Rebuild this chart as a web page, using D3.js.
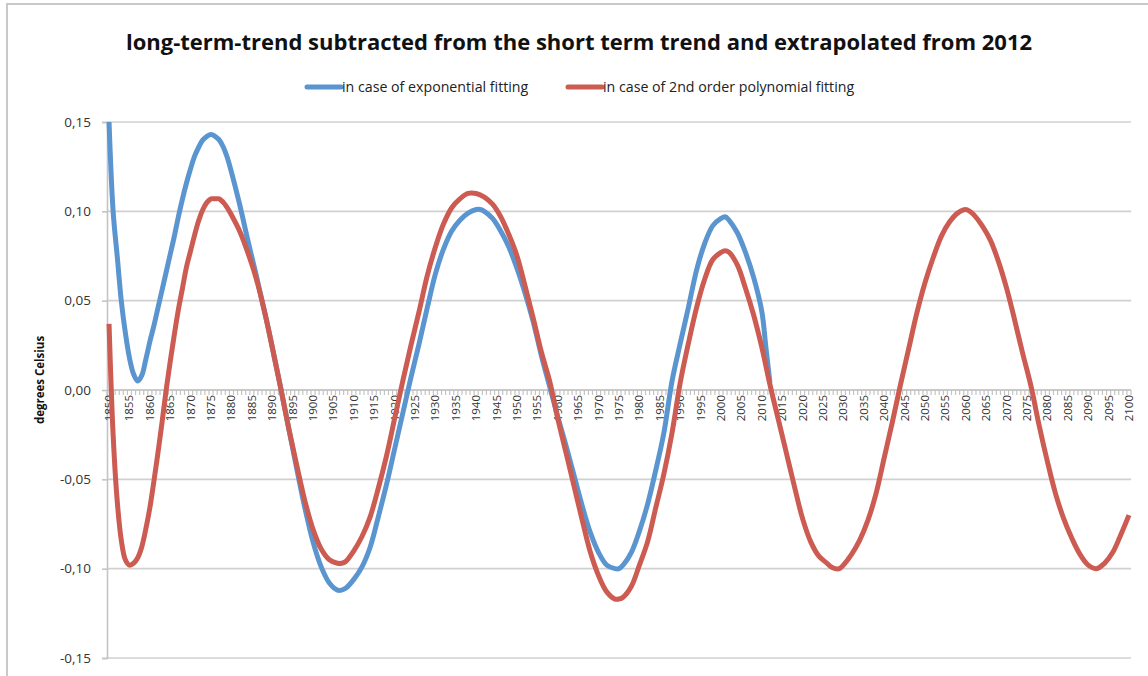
<!DOCTYPE html>
<html><head><meta charset="utf-8">
<script src="https://cdn.jsdelivr.net/npm/d3@7"></script>
<style>body{margin:0;background:#fff}svg{display:block}</style>
</head><body>
<script>
const title = "long-term-trend subtracted from the short term trend and extrapolated from 2012";
const seriesNames = ["in case of exponential fitting", "in case of 2nd order polynomial fitting"];
const yTicks = [-0.15, -0.10, -0.05, 0, 0.05, 0.10, 0.15];
const yearStart = 1850, yearEnd = 2100;

const expYears = [1850,1851,1852,1853,1854,1855,1856,1857,1858,1859,1860,1861,1862,1863,1864,1865,1866,1867,1868,1869,1870,1871,1872,1873,1874,1875,1876,1877,1878,1879,1880,1882,1884,1886,1887,1888,1889,1890,1891,1892,1894,1896,1898,1900,1902,1904,1906,1907,1908,1910,1912,1914,1916,1918,1920,1922,1924,1926,1928,1930,1932,1934,1936,1938,1940,1941,1942,1944,1946,1948,1950,1952,1954,1956,1958,1960,1962,1964,1966,1968,1970,1972,1974,1975,1976,1978,1980,1982,1984,1986,1988,1990,1992,1994,1996,1998,2000,2001,2002,2004,2006,2008,2010,2011,2012];
const expValues = [0.150,0.100,0.075,0.050,0.032,0.018,0.009,0.005,0.008,0.017,0.027,0.036,0.046,0.056,0.066,0.076,0.086,0.097,0.107,0.116,0.124,0.131,0.136,0.140,0.142,0.143,0.142,0.140,0.136,0.130,0.122,0.104,0.084,0.065,0.055,0.045,0.035,0.024,0.013,0.002,-0.021,-0.044,-0.066,-0.085,-0.099,-0.108,-0.112,-0.112,-0.111,-0.106,-0.099,-0.088,-0.071,-0.053,-0.033,-0.013,0.007,0.026,0.046,0.065,0.079,0.089,0.095,0.099,0.101,0.101,0.100,0.096,0.089,0.080,0.068,0.054,0.038,0.019,0.002,-0.015,-0.031,-0.048,-0.065,-0.080,-0.091,-0.098,-0.100,-0.100,-0.098,-0.091,-0.079,-0.064,-0.045,-0.024,0.005,0.026,0.046,0.067,0.082,0.092,0.096,0.097,0.095,0.088,0.077,0.063,0.044,0.024,0.004];

const polyYears = [1850,1851,1852,1853,1854,1855,1856,1857,1858,1859,1860,1861,1862,1863,1864,1865,1866,1867,1868,1869,1870,1871,1872,1873,1874,1875,1876,1877,1878,1879,1880,1882,1884,1886,1888,1890,1892,1894,1896,1898,1900,1902,1904,1906,1907,1908,1910,1912,1914,1916,1918,1920,1922,1924,1926,1928,1930,1932,1934,1936,1938,1940,1942,1944,1946,1948,1950,1952,1954,1956,1958,1960,1962,1964,1966,1968,1970,1972,1974,1975,1976,1978,1980,1982,1984,1986,1988,1990,1992,1994,1996,1998,2000,2001,2002,2004,2006,2008,2010,2012,2014,2016,2018,2020,2022,2024,2026,2027,2028,2029,2030,2032,2034,2036,2038,2040,2042,2044,2046,2048,2050,2052,2054,2056,2058,2060,2061,2062,2064,2066,2068,2070,2072,2074,2076,2078,2080,2082,2084,2086,2088,2090,2092,2094,2096,2098,2100];
const polyValues = [0.037,-0.025,-0.062,-0.084,-0.095,-0.098,-0.097,-0.094,-0.088,-0.078,-0.066,-0.051,-0.035,-0.018,0.000,0.016,0.031,0.045,0.057,0.069,0.078,0.087,0.095,0.101,0.105,0.107,0.107,0.107,0.105,0.102,0.098,0.089,0.077,0.063,0.045,0.024,0.002,-0.021,-0.042,-0.062,-0.078,-0.089,-0.095,-0.097,-0.097,-0.096,-0.090,-0.082,-0.071,-0.055,-0.037,-0.016,0.005,0.025,0.044,0.064,0.080,0.093,0.102,0.107,0.110,0.110,0.108,0.104,0.097,0.087,0.075,0.058,0.040,0.021,0.005,-0.016,-0.035,-0.054,-0.073,-0.091,-0.104,-0.113,-0.117,-0.117,-0.116,-0.110,-0.098,-0.085,-0.066,-0.047,-0.024,0.004,0.026,0.046,0.062,0.073,0.077,0.078,0.077,0.070,0.057,0.042,0.024,0.003,-0.016,-0.035,-0.054,-0.072,-0.085,-0.093,-0.097,-0.099,-0.100,-0.100,-0.098,-0.092,-0.084,-0.073,-0.058,-0.038,-0.018,0.003,0.023,0.043,0.060,0.074,0.086,0.094,0.099,0.101,0.100,0.098,0.092,0.084,0.072,0.057,0.039,0.020,0.002,-0.020,-0.040,-0.058,-0.072,-0.083,-0.092,-0.098,-0.100,-0.097,-0.091,-0.081,-0.070];

const colors = ["#5a95d0", "#cc5b52"];

const W = 1148, H = 676;
const svg = d3.select("body").append("svg").attr("width", W).attr("height", H);

// chart border
svg.append("rect").attr("x", 7).attr("y", 4).attr("width", W + 20).attr("height", H + 20)
  .attr("fill", "none").attr("stroke", "#c9c9c9").attr("stroke-width", 2);

const pL = 107, pR = 1131, pT = 122, pB = 658;
const x = d3.scaleLinear().domain([yearStart - 0.5, yearEnd + 0.5]).range([pL, pR]);
const y = d3.scaleLinear().domain([-0.15, 0.15]).range([pB, pT]);

// gridlines
svg.append("g").selectAll("line").data(yTicks).join("line")
  .attr("x1", pL).attr("x2", pR).attr("y1", d => y(d)).attr("y2", d => y(d))
  .attr("stroke", "#d0d0d0").attr("stroke-width", 1.6);

// y axis
const yAxis = svg.append("g").attr("transform", `translate(${pL},0)`)
  .call(d3.axisLeft(y).tickValues(yTicks).tickSize(5).tickPadding(11)
    .tickFormat(d => d3.format(".2f")(d).replace(".", ",").replace("−", "-")));
yAxis.select(".domain").attr("stroke", "#c4c4c4").attr("stroke-width", 1.6);
yAxis.selectAll(".tick line").attr("stroke", "#c4c4c4").attr("stroke-width", 1.6);
yAxis.selectAll(".tick text").attr("font-family", "'Open Sans', sans-serif").attr("font-size", 13.5).attr("fill", "#333");

// x axis at zero
const years = d3.range(yearStart, yearEnd + 1);
const xg = svg.append("g").attr("transform", `translate(0,${y(0)})`);
xg.append("line").attr("x1", pL).attr("x2", pR).attr("stroke", "#c4c4c4").attr("stroke-width", 1.6);
xg.selectAll("line.t").data(d3.range(yearStart - 0.5, yearEnd + 1, 1)).join("line").attr("class", "t")
  .attr("x1", d => x(d)).attr("x2", d => x(d)).attr("y1", 0).attr("y2", 5)
  .attr("stroke", "#c4c4c4").attr("stroke-width", 1.2);
xg.selectAll("text").data(years.filter(d => d % 5 === 0)).join("text")
  .attr("transform", d => `translate(${x(d) + 4},5) rotate(-90)`)
  .attr("text-anchor", "end").attr("font-family", "'Open Sans', sans-serif")
  .attr("font-size", 11.5).attr("fill", "#333").text(d => d);

// y title
svg.append("text").attr("transform", `translate(44,380) rotate(-90)`).attr("text-anchor", "middle")
  .attr("font-family", "'Open Sans', sans-serif").attr("font-weight", "bold").attr("font-size", 11.5)
  .attr("fill", "#111").text("degrees Celsius");

// lines
const line = d3.line().x(d => x(d[0])).y(d => y(d[1])).curve(d3.curveCatmullRom.alpha(0.5));
const data = [d3.zip(expYears, expValues), d3.zip(polyYears, polyValues)];
svg.append("g").selectAll("path").data(data).join("path")
  .attr("d", line).attr("fill", "none").attr("stroke", (d, i) => colors[i])
  .attr("stroke-width", 5).attr("stroke-linejoin", "round").attr("stroke-linecap", "butt");

// title
svg.append("text").attr("x", 579).attr("y", 50).attr("text-anchor", "middle")
  .attr("font-family", "'Open Sans', sans-serif").attr("font-weight", "bold").attr("font-size", 22)
  .attr("fill", "#111").text(title);

// legend
const legX = [307, 568];
const lg = svg.append("g").selectAll("g").data(seriesNames).join("g")
  .attr("transform", (d, i) => `translate(${legX[i]},87)`);
lg.append("line").attr("x1", 0).attr("x2", 34).attr("stroke", (d, i) => colors[i])
  .attr("stroke-width", 5).attr("stroke-linecap", "round");
lg.append("text").attr("x", 35).attr("y", 5).attr("font-family", "'Open Sans', sans-serif")
  .attr("font-size", 14.2).attr("fill", "#222").text(d => d);
</script>
</body></html>
